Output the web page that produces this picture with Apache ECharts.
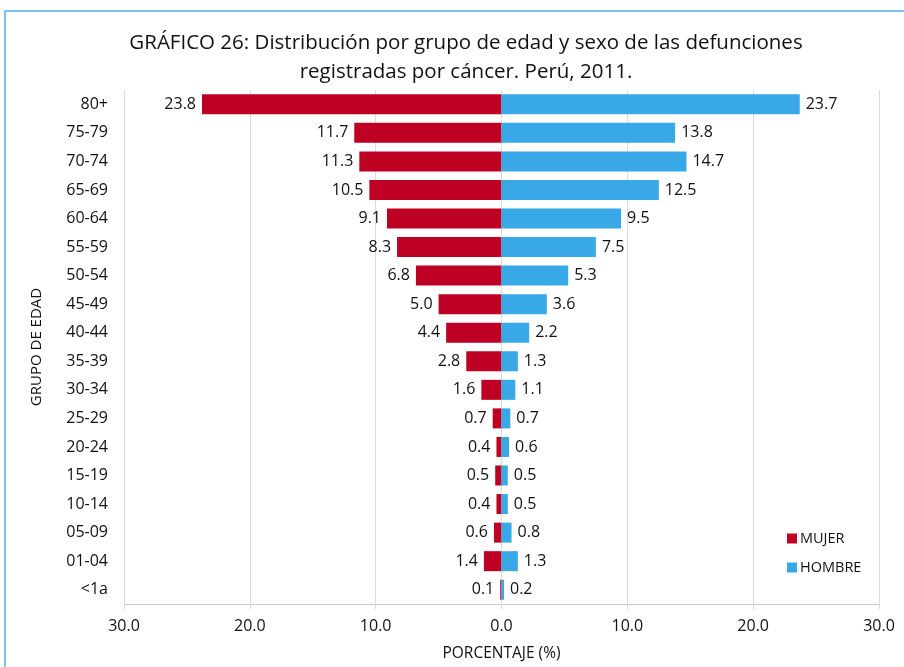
<!DOCTYPE html>
<html>
<head>
<meta charset="utf-8">
<script src="https://cdn.jsdelivr.net/npm/echarts@6/dist/echarts.min.js"></script>
<style>html,body{margin:0;padding:0;background:#fff}#c{width:904px;height:667px}</style>
</head>
<body>
<div id="c"></div>
<script>
const categories = ["80+","75-79","70-74","65-69","60-64","55-59","50-54","45-49","40-44","35-39","30-34","25-29","20-24","15-19","10-14","05-09","01-04","<1a"];
const mujer = [23.8,11.7,11.3,10.5,9.1,8.3,6.8,5.0,4.4,2.8,1.6,0.7,0.4,0.5,0.4,0.6,1.4,0.1];
const hombre = [23.7,13.8,14.7,12.5,9.5,7.5,5.3,3.6,2.2,1.3,1.1,0.7,0.6,0.5,0.5,0.8,1.3,0.2];
const xTicks = {min:-30, max:30, interval:10};

const FONT = '"Open Sans",sans-serif';
const chart = echarts.init(document.getElementById('c'), null, {renderer:'canvas'});
const fmt = v => Math.abs(v).toFixed(1);
chart.setOption({
  animation:false,
  textStyle:{fontFamily:FONT},
  title:{
    text:'GRÁFICO 26: Distribución por grupo de edad y sexo de las defunciones\nregistradas por cáncer. Perú, 2011.',
    left:461, top:24, textAlign:'center',
    textStyle:{fontFamily:FONT, fontSize:20.5, fontWeight:'normal', color:'#111', lineHeight:29}
  },
  legend:{
    orient:'vertical', left:782, top:526, itemWidth:10, itemHeight:10, itemGap:14, icon:'rect',
    data:['MUJER','HOMBRE'],
    textStyle:{fontFamily:FONT, fontSize:14.5, color:'#111', padding:[0,0,0,-2]}
  },
  grid:{left:124, right:25, top:90, bottom:63},
  xAxis:{
    type:'value', min:xTicks.min, max:xTicks.max, interval:xTicks.interval,
    name:'PORCENTAJE (%)', nameLocation:'middle', nameGap:42,
    nameTextStyle:{fontFamily:FONT, fontSize:15.5, color:'#111'},
    axisLine:{show:true, lineStyle:{color:'#c8c8c8'}},
    axisTick:{show:true, length:5, lineStyle:{color:'#d9d9d9'}},
    axisLabel:{formatter:fmt, fontFamily:FONT, fontSize:16, color:'#111', margin:14},
    splitLine:{show:true, lineStyle:{color:'#dcdcdc', width:1}}
  },
  yAxis:{
    type:'category', data:categories, inverse:true,
    name:'GRUPO DE EDAD', nameLocation:'middle', nameGap:80, nameRotate:90,
    nameTextStyle:{fontFamily:FONT, fontSize:15, color:'#111'},
    axisLine:{show:false}, axisTick:{show:false},
    axisLabel:{fontFamily:FONT, fontSize:16, color:'#111', margin:16}
  },
  graphic:[
    {type:'line', shape:{x1:4, y1:11, x2:904, y2:11}, style:{stroke:'#7cc3ef', lineWidth:2}, silent:true},
    {type:'line', shape:{x1:5, y1:10, x2:5, y2:667}, style:{stroke:'#7cc3ef', lineWidth:2}, silent:true}
  ],
  series:[
    {name:'MUJER', type:'bar', stack:'t', barWidth:20, data:mujer.map(v=>-v),
     itemStyle:{color:'#bf0025'},
     label:{show:true, position:'left', distance:6, formatter:p=>fmt(p.value), fontFamily:FONT, fontSize:16, color:'#111'}},
    {name:'HOMBRE', type:'bar', stack:'t', barWidth:20, data:hombre,
     itemStyle:{color:'#38a8e7'},
     label:{show:true, position:'right', distance:6, formatter:p=>fmt(p.value), fontFamily:FONT, fontSize:16, color:'#111'}}
  ]
});
</script>
</body>
</html>
